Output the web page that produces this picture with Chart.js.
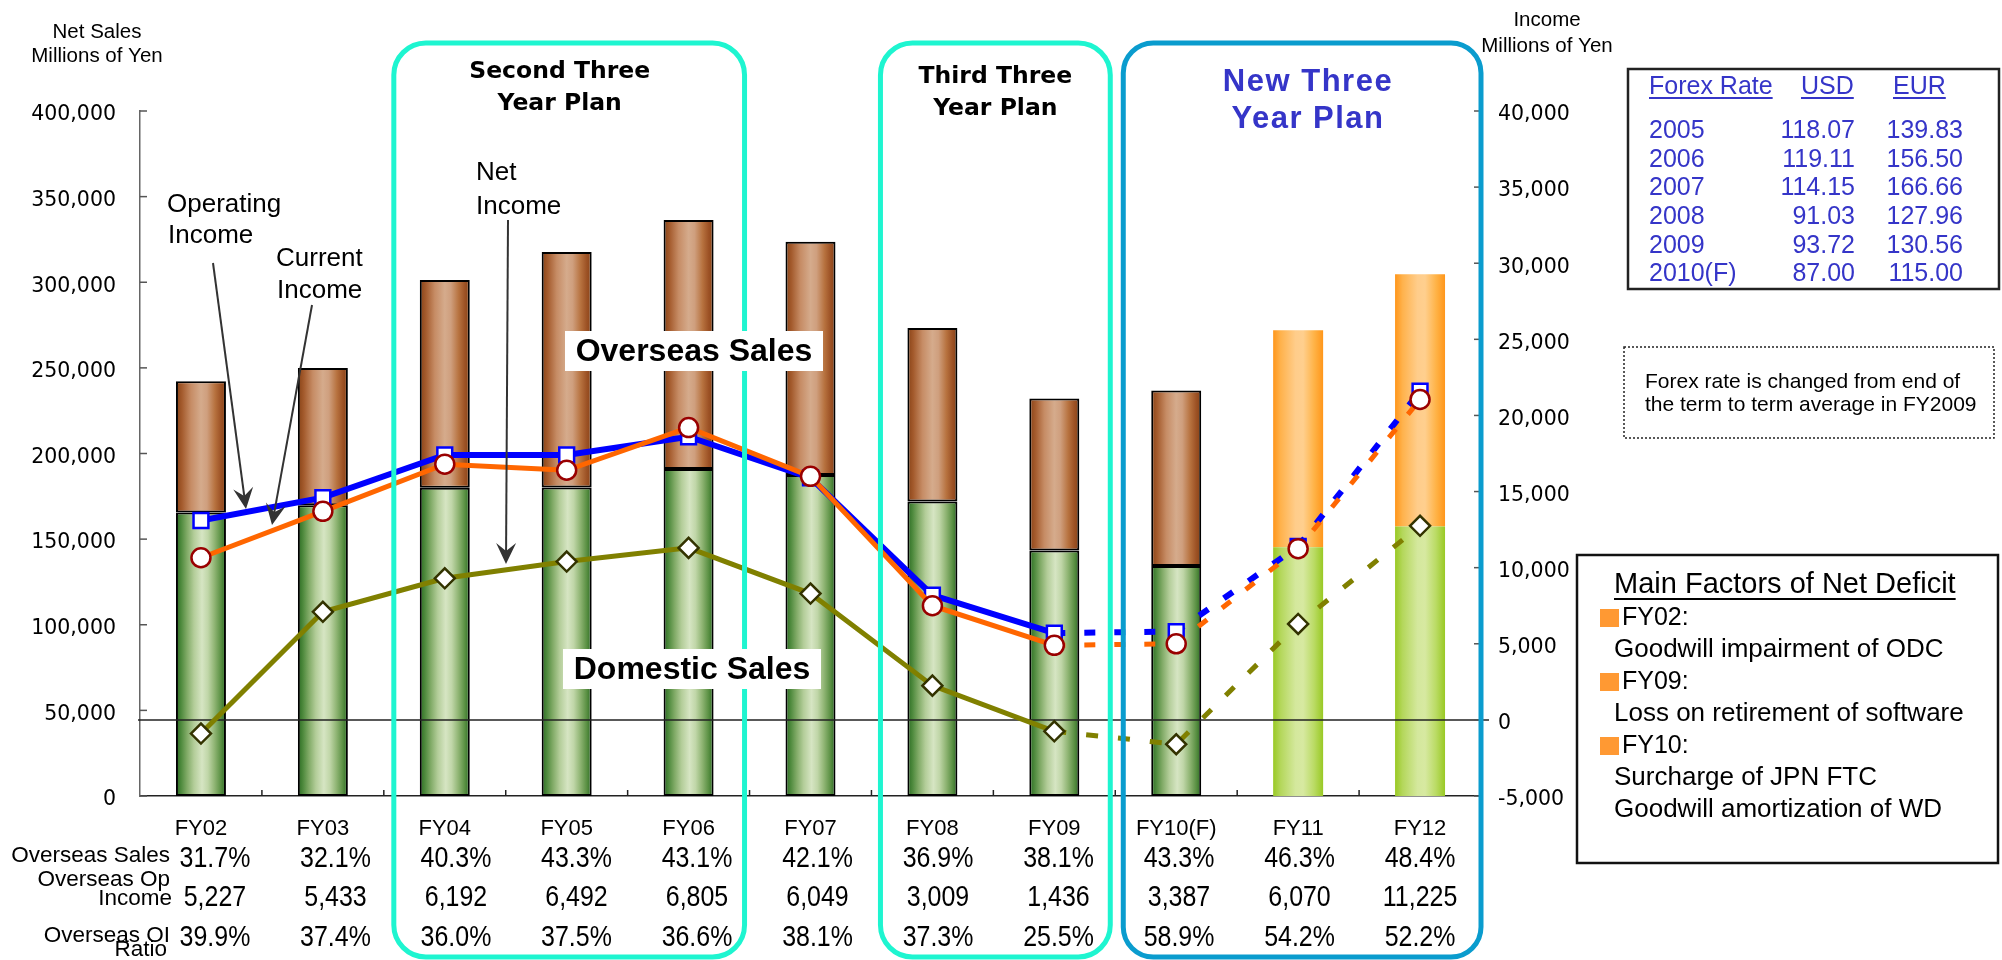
<!DOCTYPE html>
<html>
<head>
<meta charset="utf-8">
<script src="https://cdn.jsdelivr.net/npm/chart.js@4.4.1/dist/chart.umd.min.js"></script>
<style>
  html, body { margin: 0; padding: 0; background: #fff; }
  #wrap { width: 2002px; height: 960px; }
</style>
</head>
<body>
<div id="wrap"><canvas id="salesChart" width="2002" height="960"></canvas></div>
<script>
// fiscal years
const categories = ['FY02', 'FY03', 'FY04', 'FY05', 'FY06', 'FY07', 'FY08', 'FY09', 'FY10(F)', 'FY11', 'FY12'];

// net sales, millions of yen (left axis)
const domesticSales = [165500, 169800, 180000, 180100, 191000, 187500, 171900, 143400, 134300, 145200, 157300];
const overseasSales = [76700, 80200, 121300, 137600, 145400, 136100, 101400, 88700, 102500, 126800, 147400];

// income, millions of yen (right axis)
const operatingIncome = [13100, 14600, 17400, 17400, 18600, 15900, 8200, 5700, 5800, 11400, 21600];
const currentIncome = [10650, 13700, 16800, 16400, 19200, 16000, 7500, 4900, 5000, 11250, 21050];
const netIncome = [-900, 7100, 9300, 10400, 11300, 8300, 2250, -750, -1600, 6300, 12750];

// overseas rows printed under the axis
const overseasSalesRatio = [31.7, 32.1, 40.3, 43.3, 43.1, 42.1, 36.9, 38.1, 43.3, 46.3, 48.4];
const overseasOpIncome = [5227, 5433, 6192, 6492, 6805, 6049, 3009, 1436, 3387, 6070, 11225];
const overseasOiRatio = [39.9, 37.4, 36.0, 37.5, 36.6, 38.1, 37.3, 25.5, 58.9, 54.2, 52.2];

// axis ranges
const salesTicks = { min: 0, max: 400000, step: 50000 };
const incomeTicks = { min: -5000, max: 40000, step: 5000 };

// plan years: bars from here are targets, lines are dashed from the segment after FY09
const targetFrom = 9;
const dashedFrom = 7;

// forex table
const forexYears = ['2005', '2006', '2007', '2008', '2009', '2010(F)'];
const usdRates = ['118.07', '119.11', '114.15', '91.03', '93.72', '87.00'];
const eurRates = ['139.83', '156.50', '166.66', '127.96', '130.56', '115.00'];

// net deficit notes
const deficitYears = ['FY02:', 'FY09:', 'FY10:'];
const deficitNotes = [['Goodwill impairment of ODC'], ['Loss on retirement of software'], ['Surcharge of JPN FTC', 'Goodwill amortization of WD']];

const SANS = '"Liberation Sans", Arial, sans-serif';
const VERD = '"DejaVu Sans", Verdana, sans-serif';
const BAR_PCT = 0.41;

const fills = {
  domestic: [[0, '#2a6a22'], [0.1, '#4d893c'], [0.22, '#80aa66'], [0.36, '#b3cd99'], [0.52, '#d6e5c3'], [0.64, '#c0d6a8'], [0.77, '#90b574'], [0.9, '#5a9043'], [1, '#2a6a22']],
  overseas: [[0, '#874216'], [0.12, '#a45b2d'], [0.3, '#c68c65'], [0.5, '#d5ab8c'], [0.62, '#cf9f7e'], [0.78, '#b7723f'], [0.9, '#9d5225'], [1, '#874216']],
  domesticTarget: [[0, '#99c924'], [0.15, '#b4d75b'], [0.45, '#d4e89d'], [0.6, '#d7e9a1'], [0.82, '#badb64'], [1, '#99c924']],
  overseasTarget: [[0, '#ff961a'], [0.15, '#ffb24c'], [0.45, '#ffcd8b'], [0.6, '#ffcf8e'], [0.82, '#ffb347'], [1, '#ff961a']]
};

function barFill(c, part) {
  const chart = c.chart;
  const xs = chart.scales.x;
  const target = c.dataIndex >= targetFrom;
  const stops = fills[part + (target ? 'Target' : '')];
  if (c.type !== 'data' || !chart.chartArea || !xs) return stops[3][1];
  const cx = xs.getPixelForValue(c.dataIndex);
  const half = (xs.getPixelForValue(1) - xs.getPixelForValue(0)) * BAR_PCT / 2;
  const g = chart.ctx.createLinearGradient(cx - half, 0, cx + half, 0);
  stops.forEach(s => g.addColorStop(s[0], s[1]));
  return g;
}

function dashAfter(pattern) {
  return c => c.p0DataIndex >= dashedFrom ? pattern : undefined;
}

function text(ctx, s, x, y, font, color, align, sx) {
  ctx.save();
  ctx.font = font;
  ctx.fillStyle = color || '#000';
  ctx.textAlign = align || 'left';
  ctx.textBaseline = 'middle';
  ctx.translate(x, y);
  if (sx) ctx.scale(sx, 1);
  ctx.fillText(s, 0, 0);
  ctx.restore();
}

function underline(ctx, s, x, y, font, color) {
  ctx.save();
  ctx.font = font;
  const w = ctx.measureText(s).width;
  ctx.strokeStyle = color;
  ctx.lineWidth = 2;
  ctx.beginPath();
  ctx.moveTo(x, y);
  ctx.lineTo(x + w, y);
  ctx.stroke();
  ctx.restore();
}

function seg(ctx, x0, y0, x1, y1) {
  ctx.beginPath();
  ctx.moveTo(x0, y0);
  ctx.lineTo(x1, y1);
  ctx.stroke();
}

function roundBox(ctx, l, t, r, b, rad) {
  ctx.beginPath();
  ctx.moveTo(l + rad, t);
  ctx.lineTo(r - rad, t);
  ctx.arcTo(r, t, r, t + rad, rad);
  ctx.lineTo(r, b - rad);
  ctx.arcTo(r, b, r - rad, b, rad);
  ctx.lineTo(l + rad, b);
  ctx.arcTo(l, b, l, b - rad, rad);
  ctx.lineTo(l, t + rad);
  ctx.arcTo(l, t, l + rad, t, rad);
  ctx.closePath();
  ctx.stroke();
}

function arrow(ctx, x0, y0, x1, y1) {
  const a = Math.atan2(y1 - y0, x1 - x0);
  ctx.save();
  ctx.strokeStyle = '#333';
  ctx.fillStyle = '#333';
  ctx.lineWidth = 2;
  seg(ctx, x0, y0, x1 - Math.cos(a) * 12, y1 - Math.sin(a) * 12);
  ctx.translate(x1, y1);
  ctx.rotate(a);
  ctx.beginPath();
  ctx.moveTo(0, 0);
  ctx.lineTo(-21, -10);
  ctx.lineTo(-13, 0);
  ctx.lineTo(-21, 10);
  ctx.closePath();
  ctx.fill();
  ctx.restore();
}

function boxedLabel(ctx, s, l, t, r, b) {
  ctx.save();
  ctx.fillStyle = '#fff';
  ctx.fillRect(l, t, r - l, b - t);
  ctx.restore();
  text(ctx, s, (l + r) / 2, (t + b) / 2 + 1, 'bold 32px ' + SANS, '#000', 'center');
}

let zeroLineDone = false;

const overlay = {
  id: 'overlay',
  beforeDatasetsDraw() {
    zeroLineDone = false;
  },
  beforeDatasetDraw(chart, args) {
    // income zero line sits above the bars but under the income lines
    if (zeroLineDone || chart.data.datasets[args.index].type !== 'line') return;
    zeroLineDone = true;
    const { ctx, chartArea: a } = chart;
    const y0 = chart.scales.y1.getPixelForValue(0);
    ctx.save();
    ctx.strokeStyle = '#222';
    ctx.lineWidth = 1.5;
    seg(ctx, a.left - 2, y0, a.right + 8, y0);
    ctx.restore();
  },
  afterDatasetsDraw(chart) {
    const { ctx, chartArea: a } = chart;
    const { x, y, y1 } = chart.scales;

    // inward tick marks
    ctx.save();
    ctx.strokeStyle = '#555';
    ctx.lineWidth = 1.5;
    y.ticks.forEach(t => { const p = y.getPixelForValue(t.value); seg(ctx, a.left, p, a.left + 7, p); });
    y1.ticks.forEach(t => { const p = y1.getPixelForValue(t.value); seg(ctx, a.right - 7, p, a.right, p); });
    ctx.strokeStyle = '#222';
    const edges = [];
    for (let i = 1; i < categories.length; i++) {
      const p = (x.getPixelForValue(i - 1) + x.getPixelForValue(i)) / 2;
      edges.push(p);
      seg(ctx, p, a.bottom, p, a.bottom - 6);
    }
    ctx.restore();

    // three year plan frames
    ctx.save();
    ctx.lineWidth = 5;
    ctx.strokeStyle = '#1ef5d0';
    roundBox(ctx, edges[1] + 10, 43, edges[4] - 5, 957, 32);
    roundBox(ctx, edges[5] + 9, 43, edges[7] - 5, 957, 32);
    ctx.strokeStyle = '#0a9cce';
    roundBox(ctx, edges[7] + 8, 43, a.right, 957, 30);
    ctx.restore();

    const planFont = 'bold 23.5px ' + VERD;
    text(ctx, 'Second Three', (edges[1] + edges[4]) / 2 - 7, 72, planFont, '#000', 'center');
    text(ctx, 'Year Plan', (edges[1] + edges[4]) / 2 - 7, 104, planFont, '#000', 'center');
    text(ctx, 'Third Three', (edges[5] + edges[7]) / 2 + 2, 77, planFont, '#000', 'center');
    text(ctx, 'Year Plan', (edges[5] + edges[7]) / 2 + 2, 109, planFont, '#000', 'center');
    ctx.save();
    ctx.letterSpacing = '1.5px';
    text(ctx, 'New Three', 1308, 82, 'bold 31px ' + SANS, '#3535c8', 'center');
    text(ctx, 'Year Plan', 1308, 119, 'bold 31px ' + SANS, '#3535c8', 'center');
    ctx.restore();

    // segment labels
    boxedLabel(ctx, 'Overseas Sales', 565, 331, 823, 371);
    boxedLabel(ctx, 'Domestic Sales', 563, 649, 821, 689);

    // line annotations
    const noteFont = '26px ' + SANS;
    text(ctx, 'Operating', 167, 205, noteFont);
    text(ctx, 'Income', 168, 236, noteFont);
    text(ctx, 'Current', 276, 259, noteFont);
    text(ctx, 'Income', 277, 291, noteFont);
    text(ctx, 'Net', 476, 173, noteFont);
    text(ctx, 'Income', 476, 207, noteFont);
    arrow(ctx, 213, 263, 246, 509);
    arrow(ctx, 312, 305, 272, 525);
    arrow(ctx, 508, 220, 506, 564);
  },
  afterDraw(chart) {
    const ctx = chart.ctx;
    const x = chart.scales.x;

    // axis titles
    const tFont = '20.5px ' + SANS;
    text(ctx, 'Net Sales', 97, 32, tFont, '#000', 'center');
    text(ctx, 'Millions of Yen', 97, 56, tFont, '#000', 'center');
    text(ctx, 'Income', 1547, 20, tFont, '#000', 'center');
    text(ctx, 'Millions of Yen', 1547, 46, tFont, '#000', 'center');

    // overseas rows
    const rowFont = '22.5px ' + SANS;
    text(ctx, 'Overseas Sales', 170, 856, rowFont, '#000', 'right');
    text(ctx, 'Overseas Op', 170, 880, rowFont, '#000', 'right');
    text(ctx, 'Income', 172, 899, rowFont, '#000', 'right');
    text(ctx, 'Overseas OI', 170, 936, rowFont, '#000', 'right');
    text(ctx, 'Ratio', 167, 950, rowFont, '#000', 'right');
    const numFont = '29px ' + SANS;
    categories.forEach((c, i) => {
      const cx = x.getPixelForValue(i) + 14 - 1.4 * i;
      text(ctx, overseasSalesRatio[i].toFixed(1) + '%', cx, 859, numFont, '#000', 'center', 0.86);
      text(ctx, overseasOpIncome[i].toLocaleString('en-US'), cx, 898, numFont, '#000', 'center', 0.86);
      text(ctx, overseasOiRatio[i].toFixed(1) + '%', cx, 938, numFont, '#000', 'center', 0.86);
    });

    // forex table
    const blue = '#3535c8';
    const fxFont = '25px ' + SANS;
    ctx.save();
    ctx.strokeStyle = '#222';
    ctx.lineWidth = 2.5;
    ctx.strokeRect(1628, 69, 371, 220);
    ctx.restore();
    text(ctx, 'Forex Rate', 1649, 87, fxFont, blue);
    underline(ctx, 'Forex Rate', 1649, 98, fxFont, blue);
    text(ctx, 'USD', 1801, 87, fxFont, blue);
    underline(ctx, 'USD', 1801, 98, fxFont, blue);
    text(ctx, 'EUR', 1893, 87, fxFont, blue);
    underline(ctx, 'EUR', 1893, 98, fxFont, blue);
    forexYears.forEach((yr, i) => {
      const ry = 131 + i * 28.7;
      text(ctx, yr, 1649, ry, fxFont, blue);
      text(ctx, usdRates[i], 1855, ry, fxFont, blue, 'right');
      text(ctx, eurRates[i], 1963, ry, fxFont, blue, 'right');
    });

    // forex note
    ctx.save();
    ctx.strokeStyle = '#222';
    ctx.lineWidth = 1.5;
    ctx.setLineDash([2, 2]);
    ctx.strokeRect(1624, 347, 370, 91);
    ctx.restore();
    text(ctx, 'Forex rate is changed from end of', 1645, 382, '21px ' + SANS);
    text(ctx, 'the term to term average in FY2009', 1645, 405, '21px ' + SANS);

    // net deficit box
    ctx.save();
    ctx.strokeStyle = '#111';
    ctx.lineWidth = 2.5;
    ctx.strokeRect(1577, 555, 421, 308);
    ctx.restore();
    text(ctx, 'Main Factors of Net Deficit', 1614, 585, '29px ' + SANS);
    underline(ctx, 'Main Factors of Net Deficit', 1614, 599, '29px ' + SANS, '#000');
    let ry = 618;
    deficitYears.forEach((yr, i) => {
      ctx.fillStyle = '#ff9933';
      ctx.fillRect(1600, ry - 9, 19, 18);
      text(ctx, yr, 1622, ry, '25px ' + SANS);
      ry += 32;
      deficitNotes[i].forEach(n => {
        text(ctx, n, 1614, ry, '26px ' + SANS);
        ry += 32;
      });
    });
  }
};

const ctx = document.getElementById('salesChart').getContext('2d');
const chart = new Chart(ctx, {
  data: {
    labels: categories,
    datasets: [
      {
        type: 'bar',
        label: 'Domestic Sales',
        data: domesticSales,
        yAxisID: 'y',
        stack: 'sales',
        order: 5,
        barPercentage: BAR_PCT,
        categoryPercentage: 1,
        backgroundColor: c => barFill(c, 'domestic'),
        borderColor: '#000',
        borderWidth: c => c.dataIndex >= targetFrom ? 0 : 2,
        borderSkipped: false
      },
      {
        type: 'bar',
        label: 'Overseas Sales',
        data: overseasSales,
        yAxisID: 'y',
        stack: 'sales',
        order: 6,
        barPercentage: BAR_PCT,
        categoryPercentage: 1,
        backgroundColor: c => barFill(c, 'overseas'),
        borderColor: '#000',
        borderWidth: c => c.dataIndex >= targetFrom ? 0 : 2,
        borderSkipped: false
      },
      {
        type: 'line',
        label: 'Net Income',
        data: netIncome,
        yAxisID: 'y1',
        order: 3,
        borderColor: '#808000',
        borderWidth: 5,
        tension: 0,
        pointStyle: 'rectRot',
        pointRadius: 10,
        pointBorderWidth: 2.5,
        pointBorderColor: '#333300',
        pointBackgroundColor: '#fff',
        segment: { borderDash: dashAfter([12, 20]) }
      },
      {
        type: 'line',
        label: 'Operating Income',
        data: operatingIncome,
        yAxisID: 'y1',
        order: 2,
        borderColor: '#0000ff',
        borderWidth: 6,
        tension: 0,
        pointStyle: 'rect',
        pointRadius: 10.5,
        pointBorderWidth: 2.5,
        pointBorderColor: '#0000ff',
        pointBackgroundColor: '#fff',
        segment: { borderDash: dashAfter([11, 19]) }
      },
      {
        type: 'line',
        label: 'Current Income',
        data: currentIncome,
        yAxisID: 'y1',
        order: 1,
        borderColor: '#ff6600',
        borderWidth: 5,
        tension: 0,
        pointStyle: 'circle',
        pointRadius: 9.5,
        pointBorderWidth: 2.5,
        pointBorderColor: '#990000',
        pointBackgroundColor: '#fff',
        segment: { borderDash: dashAfter([11, 19]) }
      }
    ]
  },
  options: {
    responsive: false,
    animation: false,
    devicePixelRatio: 1,
    events: [],
    layout: { padding: { top: 111, left: 0, right: 0, bottom: 0 } },
    plugins: {
      legend: { display: false },
      tooltip: { enabled: false }
    },
    scales: {
      x: {
        stacked: true,
        grid: { display: false, drawTicks: false },
        border: { display: true, color: '#222', width: 1.5 },
        ticks: {
          color: '#000',
          font: { family: SANS, size: 22 },
          padding: 20,
          maxRotation: 0,
          autoSkip: false
        },
        afterFit: s => { s.height = 164; }
      },
      y: {
        position: 'left',
        stacked: true,
        min: salesTicks.min,
        max: salesTicks.max,
        grid: { display: false, drawTicks: false },
        border: { display: true, color: '#666', width: 1.5 },
        ticks: {
          stepSize: salesTicks.step,
          color: '#000',
          font: { family: VERD, size: 20.5 },
          padding: 24,
          labelOffset: 4,
          callback: v => v.toLocaleString('en-US')
        },
        afterFit: s => { s.width = 140; }
      },
      y1: {
        position: 'right',
        min: incomeTicks.min,
        max: incomeTicks.max,
        grid: { display: false, drawTicks: false },
        border: { display: true, color: '#666', width: 1.5 },
        ticks: {
          stepSize: incomeTicks.step,
          color: '#000',
          font: { family: VERD, size: 20.5 },
          padding: 17,
          labelOffset: 4,
          callback: v => v.toLocaleString('en-US')
        },
        afterFit: s => { s.width = 521; }
      }
    }
  },
  plugins: [overlay]
});
</script>
</body>
</html>
